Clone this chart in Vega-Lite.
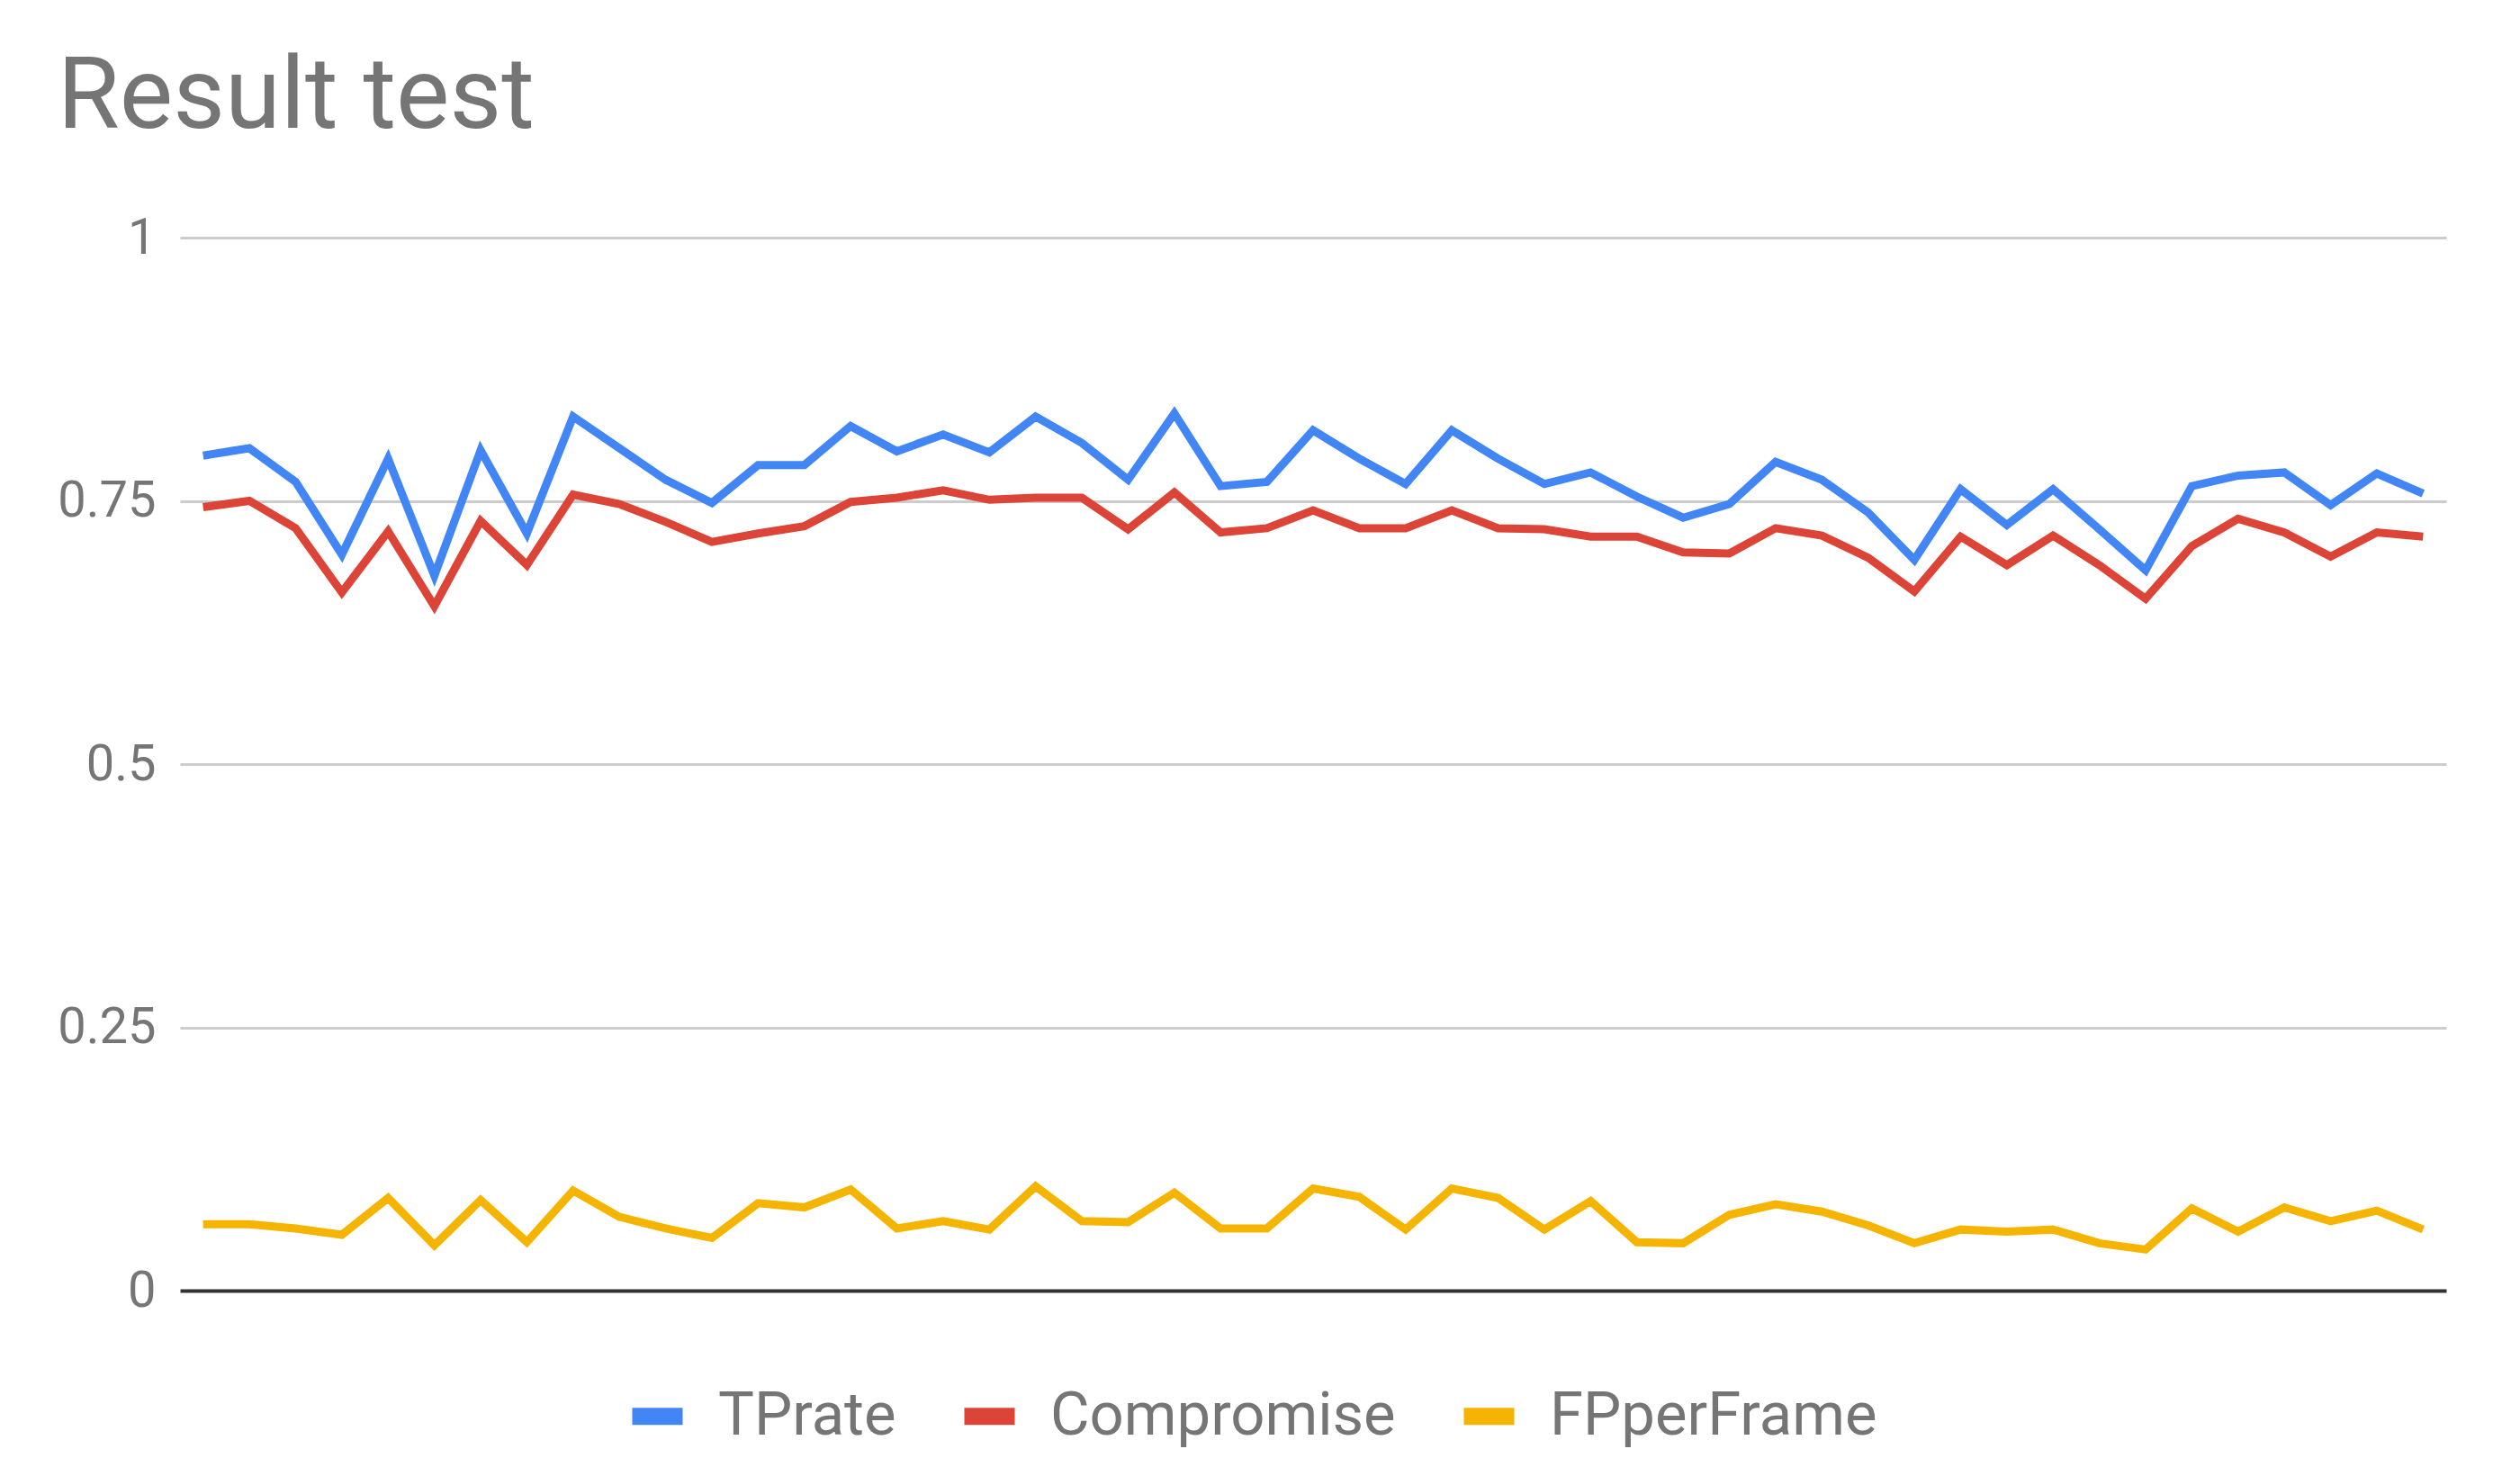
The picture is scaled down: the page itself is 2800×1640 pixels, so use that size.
{
  "$schema": "https://vega.github.io/schema/vega-lite/v6.json",
  "width": 2518,
  "height": 1170,
  "autosize": "none",
  "padding": {"left": 200, "top": 264, "right": 82, "bottom": 206},
  "background": "white",
  "title": {
    "text": "Result test",
    "anchor": "start",
    "frame": "bounds",
    "font": "Roboto",
    "fontSize": 112,
    "fontWeight": "normal",
    "color": "#757575",
    "baseline": "alphabetic",
    "offset": -18
  },
  "config": {
    "view": {"stroke": null},
    "font": "Roboto"
  },
  "data": {
    "values": [
      {"i": 0, "TPrate": 0.793, "Compromise": 0.744, "FPperFrame": 0.063},
      {"i": 1, "TPrate": 0.800, "Compromise": 0.750, "FPperFrame": 0.063},
      {"i": 2, "TPrate": 0.768, "Compromise": 0.724, "FPperFrame": 0.059},
      {"i": 3, "TPrate": 0.699, "Compromise": 0.663, "FPperFrame": 0.053},
      {"i": 4, "TPrate": 0.790, "Compromise": 0.721, "FPperFrame": 0.088},
      {"i": 5, "TPrate": 0.679, "Compromise": 0.650, "FPperFrame": 0.043},
      {"i": 6, "TPrate": 0.798, "Compromise": 0.731, "FPperFrame": 0.086},
      {"i": 7, "TPrate": 0.719, "Compromise": 0.689, "FPperFrame": 0.046},
      {"i": 8, "TPrate": 0.830, "Compromise": 0.756, "FPperFrame": 0.095},
      {"i": 9, "TPrate": 0.800, "Compromise": 0.747, "FPperFrame": 0.070},
      {"i": 10, "TPrate": 0.770, "Compromise": 0.730, "FPperFrame": 0.059},
      {"i": 11, "TPrate": 0.748, "Compromise": 0.711, "FPperFrame": 0.050},
      {"i": 12, "TPrate": 0.784, "Compromise": 0.719, "FPperFrame": 0.083},
      {"i": 13, "TPrate": 0.784, "Compromise": 0.726, "FPperFrame": 0.079},
      {"i": 14, "TPrate": 0.821, "Compromise": 0.749, "FPperFrame": 0.096},
      {"i": 15, "TPrate": 0.797, "Compromise": 0.753, "FPperFrame": 0.059},
      {"i": 16, "TPrate": 0.813, "Compromise": 0.760, "FPperFrame": 0.066},
      {"i": 17, "TPrate": 0.796, "Compromise": 0.751, "FPperFrame": 0.058},
      {"i": 18, "TPrate": 0.830, "Compromise": 0.753, "FPperFrame": 0.099},
      {"i": 19, "TPrate": 0.805, "Compromise": 0.753, "FPperFrame": 0.066},
      {"i": 20, "TPrate": 0.770, "Compromise": 0.723, "FPperFrame": 0.065},
      {"i": 21, "TPrate": 0.833, "Compromise": 0.758, "FPperFrame": 0.093},
      {"i": 22, "TPrate": 0.764, "Compromise": 0.720, "FPperFrame": 0.059},
      {"i": 23, "TPrate": 0.768, "Compromise": 0.724, "FPperFrame": 0.059},
      {"i": 24, "TPrate": 0.817, "Compromise": 0.741, "FPperFrame": 0.097},
      {"i": 25, "TPrate": 0.790, "Compromise": 0.724, "FPperFrame": 0.089},
      {"i": 26, "TPrate": 0.766, "Compromise": 0.724, "FPperFrame": 0.058},
      {"i": 27, "TPrate": 0.817, "Compromise": 0.741, "FPperFrame": 0.097},
      {"i": 28, "TPrate": 0.790, "Compromise": 0.724, "FPperFrame": 0.088},
      {"i": 29, "TPrate": 0.766, "Compromise": 0.723, "FPperFrame": 0.058},
      {"i": 30, "TPrate": 0.777, "Compromise": 0.716, "FPperFrame": 0.085},
      {"i": 31, "TPrate": 0.754, "Compromise": 0.716, "FPperFrame": 0.046},
      {"i": 32, "TPrate": 0.734, "Compromise": 0.701, "FPperFrame": 0.045},
      {"i": 33, "TPrate": 0.747, "Compromise": 0.700, "FPperFrame": 0.072},
      {"i": 34, "TPrate": 0.787, "Compromise": 0.724, "FPperFrame": 0.082},
      {"i": 35, "TPrate": 0.770, "Compromise": 0.717, "FPperFrame": 0.075},
      {"i": 36, "TPrate": 0.739, "Compromise": 0.696, "FPperFrame": 0.062},
      {"i": 37, "TPrate": 0.694, "Compromise": 0.664, "FPperFrame": 0.045},
      {"i": 38, "TPrate": 0.761, "Compromise": 0.716, "FPperFrame": 0.058},
      {"i": 39, "TPrate": 0.727, "Compromise": 0.689, "FPperFrame": 0.056},
      {"i": 40, "TPrate": 0.761, "Compromise": 0.717, "FPperFrame": 0.058},
      {"i": 41, "TPrate": 0.723, "Compromise": 0.689, "FPperFrame": 0.045},
      {"i": 42, "TPrate": 0.684, "Compromise": 0.657, "FPperFrame": 0.039},
      {"i": 43, "TPrate": 0.764, "Compromise": 0.707, "FPperFrame": 0.078},
      {"i": 44, "TPrate": 0.774, "Compromise": 0.733, "FPperFrame": 0.056},
      {"i": 45, "TPrate": 0.777, "Compromise": 0.720, "FPperFrame": 0.079},
      {"i": 46, "TPrate": 0.746, "Compromise": 0.697, "FPperFrame": 0.066},
      {"i": 47, "TPrate": 0.776, "Compromise": 0.720, "FPperFrame": 0.076},
      {"i": 48, "TPrate": 0.757, "Compromise": 0.716, "FPperFrame": 0.058}
    ]
  },
  "transform": [
    {"fold": ["TPrate", "Compromise", "FPperFrame"], "as": ["series", "value"]}
  ],
  "mark": {"type": "line", "strokeWidth": 9, "strokeJoin": "miter", "strokeCap": "butt"},
  "encoding": {
    "x": {
      "field": "i",
      "type": "quantitative",
      "scale": {"domain": [-0.5, 48.5], "nice": false, "zero": false},
      "axis": null
    },
    "y": {
      "field": "value",
      "type": "quantitative",
      "scale": {"domain": [0, 1], "nice": false},
      "axis": {
        "values": [0, 0.25, 0.5, 0.75, 1],
        "format": ".2~f",
        "title": null,
        "domain": false,
        "ticks": false,
        "labelPadding": 27,
        "labelFont": "Roboto",
        "labelFontSize": 56,
        "labelColor": "#757575",
        "gridColor": {"condition": {"test": "datum.value === 0", "value": "#333333"}, "value": "#cccccc"},
        "gridWidth": {"condition": {"test": "datum.value === 0", "value": 4}, "value": 3}
      }
    },
    "color": {
      "field": "series",
      "type": "nominal",
      "sort": ["TPrate", "Compromise", "FPperFrame"],
      "scale": {"domain": ["TPrate", "Compromise", "FPperFrame"], "range": ["#4285F4", "#DB4437", "#F4B400"]},
      "legend": {
        "title": null,
        "orient": "none",
        "direction": "horizontal",
        "legendX": 493,
        "legendY": 1272,
        "padding": 0,
        "symbolType": "stroke",
        "symbolSize": 3136,
        "symbolStrokeWidth": 19,
        "labelFont": "Roboto",
        "labelFontSize": 67,
        "labelColor": "#757575",
        "labelOffset": 30,
        "labelLimit": 0,
        "columnPadding": 37
      }
    }
  }
}
